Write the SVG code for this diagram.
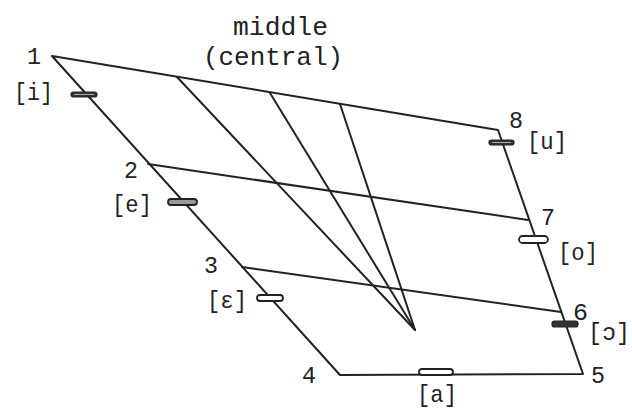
<svg xmlns="http://www.w3.org/2000/svg" width="632" height="409" viewBox="0 0 632 409">
<style>
.ln{stroke:#222;stroke-width:2;fill:none;stroke-linecap:round;stroke-linejoin:round}
.num{font-family:"Liberation Mono","DejaVu Sans Mono",monospace;font-size:24px;fill:#222}
.ipa{font-family:"Liberation Mono","DejaVu Sans Mono",monospace;font-size:24px;fill:#222}
.ttl{font-family:"Liberation Mono","DejaVu Sans Mono",monospace;font-size:26px;fill:#222}
.hollow{fill:#fff;stroke:#222;stroke-width:1.8}
.dark{fill:#333;stroke:#222;stroke-width:1.2}
.mid{fill:#999;stroke:#222;stroke-width:1.8}
.stripe{stroke:#aaa;stroke-width:1}
</style>
<rect width="632" height="409" fill="#fff"/>
<g id="connectors">
<polyline class="ln" points="52,56 340,375 583,374 498,130 52,56"/>
<line class="ln" x1="148" y1="164" x2="528" y2="220"/>
<line class="ln" x1="242" y1="267" x2="561" y2="312"/>
<line class="ln" x1="177" y1="77" x2="415" y2="330"/>
<line class="ln" x1="270" y1="93" x2="415" y2="330"/>
<line class="ln" x1="340" y1="104" x2="415" y2="330"/>
</g>
<g id="title">
<text class="ttl" x="233" y="35" textLength="95" lengthAdjust="spacingAndGlyphs">middle</text>
<text class="ttl" x="203" y="65" textLength="140" lengthAdjust="spacingAndGlyphs">(central)</text>
</g>
<g id="n1">
<text class="num" x="27" y="64" textLength="14" lengthAdjust="spacingAndGlyphs">1</text>
<text class="ipa" x="14" y="100" textLength="39" lengthAdjust="spacingAndGlyphs">[i]</text>
<rect class="dark" x="71" y="92" width="26" height="5" rx="2.5"/>
<line class="stripe" x1="74" y1="94.5" x2="94" y2="94.5"/>
</g>
<g id="n2">
<text class="num" x="124" y="178" textLength="14" lengthAdjust="spacingAndGlyphs">2</text>
<text class="ipa" x="112" y="212" textLength="40" lengthAdjust="spacingAndGlyphs">[e]</text>
<rect class="mid" x="168" y="199" width="29" height="6" rx="3"/>
</g>
<g id="n3">
<text class="num" x="204" y="273" textLength="14" lengthAdjust="spacingAndGlyphs">3</text>
<text class="ipa" x="207" y="308" textLength="40" lengthAdjust="spacingAndGlyphs">[ɛ]</text>
<rect class="hollow" x="257" y="295" width="26" height="6" rx="3"/>
</g>
<g id="n4">
<text class="num" x="302" y="383" textLength="14" lengthAdjust="spacingAndGlyphs">4</text>
<text class="ipa" x="417" y="402" textLength="40" lengthAdjust="spacingAndGlyphs">[a]</text>
<rect class="hollow" x="419" y="369" width="34" height="6" rx="3"/>
</g>
<g id="n5">
<text class="num" x="591" y="383" textLength="14" lengthAdjust="spacingAndGlyphs">5</text>
</g>
<g id="n6">
<text class="num" x="573" y="320" textLength="15" lengthAdjust="spacingAndGlyphs">6</text>
<text class="ipa" x="588" y="340" textLength="42" lengthAdjust="spacingAndGlyphs">[ɔ]</text>
<rect class="dark" x="552" y="321" width="26" height="6" rx="2.5" fill="#222"/>
</g>
<g id="n7">
<text class="num" x="541" y="225" textLength="14" lengthAdjust="spacingAndGlyphs">7</text>
<text class="ipa" x="558" y="260" textLength="40" lengthAdjust="spacingAndGlyphs">[o]</text>
<rect class="hollow" x="519" y="236" width="29" height="7" rx="3.5"/>
</g>
<g id="n8">
<text class="num" x="509" y="128" textLength="14" lengthAdjust="spacingAndGlyphs">8</text>
<text class="ipa" x="527" y="149" textLength="40" lengthAdjust="spacingAndGlyphs">[u]</text>
<rect class="dark" x="489" y="140" width="25" height="5" rx="2.5"/>
<line class="stripe" x1="492" y1="142.5" x2="511" y2="142.5"/>
</g>
</svg>
